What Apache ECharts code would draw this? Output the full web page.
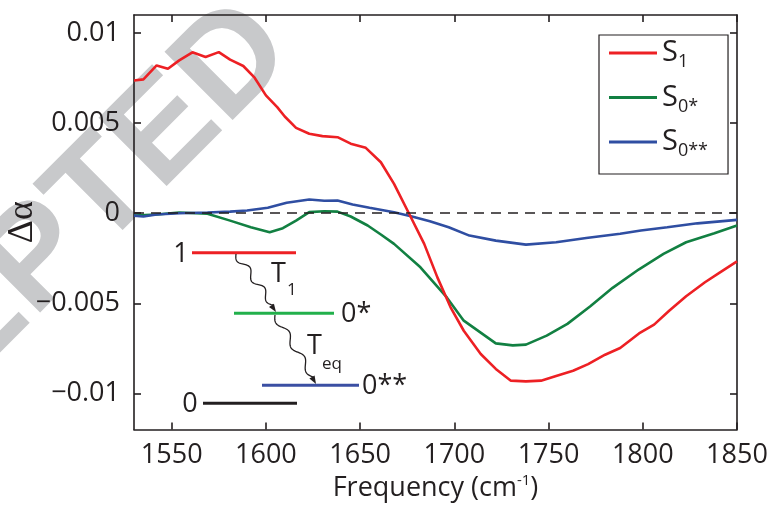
<!DOCTYPE html>
<html><head><meta charset="utf-8">
<script src="https://cdn.jsdelivr.net/npm/echarts@6/dist/echarts.min.js"></script>
<style>html,body{margin:0;padding:0;background:#fff}#c{width:773px;height:507px}</style>
</head><body><div id="c"></div>
<script>
// ---- data ----
const s1Freq = [1530,1535,1542,1548,1554,1561,1568,1575,1581,1588,1594,1600,1606,1610,1616,1623,1630,1638,1645,1653,1661,1668,1676,1684,1691,1698,1705,1714,1722,1730,1738,1746,1754,1763,1771,1780,1788,1798,1806,1814,1823,1833,1841,1850];
const s1Val  = [0.00737,0.00743,0.0082,0.00802,0.00848,0.00893,0.00867,0.00894,0.00852,0.00817,0.00752,0.00654,0.00589,0.00537,0.00474,0.00441,0.00428,0.00422,0.00386,0.00363,0.00283,0.00163,-0.00003,-0.0017,-0.00356,-0.00522,-0.00652,-0.00781,-0.00864,-0.00929,-0.00933,-0.00929,-0.00903,-0.00874,-0.00837,-0.00785,-0.00748,-0.00667,-0.00618,-0.00541,-0.00461,-0.00383,-0.00328,-0.00267];

const s0sFreq = [1530,1542,1554,1569,1581,1592,1602,1609,1616,1623,1631,1638,1645,1654,1661,1668,1682,1696,1705,1722,1731,1738,1749,1760,1772,1784,1798,1811,1823,1838,1850];
const s0sVal  = [-0.00013,-0.00007,0.00004,-0.00003,-0.00041,-0.00078,-0.00106,-0.00083,-0.00041,0.00006,0.00011,0.00009,-0.00018,-0.00068,-0.00118,-0.0017,-0.003,-0.00467,-0.00596,-0.00722,-0.00733,-0.00729,-0.00679,-0.00614,-0.00518,-0.00414,-0.00311,-0.00226,-0.00161,-0.00111,-0.00068];

const s0ssFreq = [1530,1535,1542,1554,1569,1581,1590,1601,1611,1623,1631,1638,1646,1655,1668,1677,1687,1697,1708,1722,1738,1754,1770,1788,1799,1813,1829,1850];
const s0ssVal  = [-0.00013,-0.00018,-0.00007,0,0.00004,0.00009,0.00015,0.0003,0.00058,0.00076,0.00069,0.00071,0.00048,0.0003,0.00006,-0.00017,-0.00044,-0.00078,-0.00124,-0.00152,-0.00174,-0.00161,-0.00137,-0.00114,-0.00096,-0.00078,-0.00056,-0.00037];

const seriesNames = ['S1','S0*','S0**'];
const legendSubs  = ['1','0*','0**'];
const xTicks = [1550,1600,1650,1700,1750,1800,1850];
const yTicks = [-0.01,-0.005,0,0.005,0.01];
const yTickLabels = ['\u22120.01','\u22120.005','0','0.005','0.01'];
const xTitle = 'Frequency (cm';
const yTitle = '\u0394\u03b1';

// ---- build ----
const zip = (a,b) => a.map((v,i)=>[v,b[i]]);
const FONT = '"Open Sans", "Noto Sans", sans-serif';
const INK = '#231f20';
const RED = '#ed2024', GREEN = '#128042', BLUE = '#2f4ea2';

const chart = echarts.init(document.getElementById('c'), null, {renderer:'canvas'});

function wavy(x1,y1,x2,y2,periods,amp){
  const pts=[]; const n=80;
  const dx=x2-x1, dy=y2-y1, L=Math.hypot(dx,dy);
  const nx=-dy/L, ny=dx/L;
  for(let i=0;i<=n;i++){
    const t=i/n; const o=amp*Math.sin(t*periods*2*Math.PI);
    pts.push([x1+dx*t+nx*o, y1+dy*t+ny*o]);
  }
  return pts;
}
function arrowHead(x,y,angle,len,w){
  const bx=x-Math.cos(angle)*len, by=y-Math.sin(angle)*len;
  const px=-Math.sin(angle)*w/2, py=Math.cos(angle)*w/2;
  return [[x,y],[bx+px,by+py],[bx-px,by-py]];
}

const axisCommon = {
  axisLine:{show:true,onZero:false,lineStyle:{color:INK,width:1.6}},
  splitLine:{show:false}
};

const option = {
  animation:false,
  backgroundColor:'#fff',
  grid:{left:134,right:36,top:15,bottom:77.5,containLabel:false,outerBoundsMode:'none'},
  xAxis:[{
    type:'value',min:1530,max:1850,position:'bottom',
    ...axisCommon,
    axisTick:{show:true,inside:true,length:7,lineStyle:{color:INK,width:1.6},customValues:xTicks},
    axisLabel:{show:true,customValues:xTicks,margin:12,color:INK,fontSize:27,fontFamily:FONT,
      formatter:v=>String(v)},
    name:xTitle+'{sup|-1}{n|)}',nameLocation:'middle',nameGap:44,
    nameTextStyle:{color:INK,fontSize:27,fontFamily:FONT,lineHeight:30,
      rich:{sup:{fontSize:15,fontFamily:FONT,color:INK,verticalAlign:'top',lineHeight:12},
            n:{fontSize:27,fontFamily:FONT,color:INK,lineHeight:30}}}
  },{
    type:'value',min:1530,max:1850,position:'top',
    ...axisCommon,
    axisTick:{show:true,inside:true,length:7,lineStyle:{color:INK,width:1.6},customValues:xTicks},
    axisLabel:{show:false}
  }],
  yAxis:[{
    type:'value',min:-0.012,max:0.011,position:'left',
    ...axisCommon,
    axisTick:{show:true,inside:true,length:7,lineStyle:{color:INK,width:1.6},customValues:yTicks},
    axisLabel:{show:true,customValues:yTicks,margin:14,color:INK,fontSize:27,fontFamily:FONT,
      formatter:v=>{const i=yTicks.findIndex(t=>Math.abs(t-v)<1e-9);return i>=0?yTickLabels[i]:'';}},
    name:yTitle,nameLocation:'middle',nameGap:93,nameRotate:90,nameMoveOverlap:false,
    nameTextStyle:{color:INK,fontSize:36,fontFamily:'"Liberation Serif", "DejaVu Serif", serif'}
  },{
    type:'value',min:-0.012,max:0.011,position:'right',
    ...axisCommon,
    axisTick:{show:true,inside:true,length:7,lineStyle:{color:INK,width:1.6},customValues:yTicks},
    axisLabel:{show:false}
  }],
  legend:{
    orient:'vertical',left:599,top:35,
    data:seriesNames,
    icon:'rect',itemWidth:48,itemHeight:3,itemGap:11.5,
    padding:[3,20,14,10],
    borderColor:INK,borderWidth:1.2,backgroundColor:'#fff',
    formatter:name=>'{s|S}{b|'+legendSubs[seriesNames.indexOf(name)]+'}',
    textStyle:{color:INK,fontFamily:FONT,
      rich:{s:{fontSize:29,fontFamily:FONT,color:INK,lineHeight:30},
            b:{fontSize:18,fontFamily:FONT,color:INK,lineHeight:30,verticalAlign:'top',padding:[15,0,0,0]}}}
  },
  series:[
    {name:seriesNames[0],type:'line',data:zip(s1Freq,s1Val),showSymbol:false,
     lineStyle:{color:RED,width:2.6},itemStyle:{color:RED},z:4,
     markLine:{silent:true,symbol:['none','none'],label:{show:false},
       lineStyle:{color:INK,type:[10,7],width:1.5},data:[{yAxis:0}],z:5}},
    {name:seriesNames[1],type:'line',data:zip(s0sFreq,s0sVal),showSymbol:false,
     lineStyle:{color:GREEN,width:2.6},itemStyle:{color:GREEN},z:3},
    {name:seriesNames[2],type:'line',data:zip(s0ssFreq,s0ssVal),showSymbol:false,
     lineStyle:{color:BLUE,width:2.6},itemStyle:{color:BLUE},z:3}
  ],
  graphic:[
    {type:'text',x:-2,y:300,rotation:Math.PI/4,z:-10,silent:true,
     style:{text:'ACCEPTED',font:'bold 140px "Liberation Sans", Arial, sans-serif',fill:'#c8c9cb',
            align:'center',verticalAlign:'middle',textAlign:'center',textVerticalAlign:'middle'}},
    // energy level scheme
    {type:'line',z:50,shape:{x1:192,y1:252.7,x2:296,y2:252.7},style:{stroke:RED,lineWidth:3}},
    {type:'line',z:50,shape:{x1:234,y1:313.3,x2:334,y2:313.3},style:{stroke:'#22b04b',lineWidth:3}},
    {type:'line',z:50,shape:{x1:262,y1:385.3,x2:359,y2:385.3},style:{stroke:'#3b4fa3',lineWidth:3}},
    {type:'line',z:50,shape:{x1:203,y1:403.3,x2:297,y2:403.3},style:{stroke:INK,lineWidth:3}},
    {type:'polyline',z:50,shape:{points:wavy(236,254,273,305,2.5,3.5)},style:{stroke:INK,lineWidth:1.3,fill:null}},
    {type:'polygon',z:50,shape:{points:arrowHead(276,312,Math.atan2(58,40),8,6)},style:{fill:INK}},
    {type:'polyline',z:50,shape:{points:wavy(275,315,313,377,2.5,3.5)},style:{stroke:INK,lineWidth:1.3,fill:null}},
    {type:'polygon',z:50,shape:{points:arrowHead(316,384,Math.atan2(69,40),8,6)},style:{fill:INK}},
    {type:'text',z:50,x:181,y:254,style:{text:'1',font:'27px '+FONT,fill:INK,align:'center',verticalAlign:'middle',textAlign:'center',textVerticalAlign:'middle'}},
    {type:'text',z:50,x:190,y:404,style:{text:'0',font:'27px '+FONT,fill:INK,align:'center',verticalAlign:'middle',textAlign:'center',textVerticalAlign:'middle'}},
    {type:'text',z:50,x:341,y:314,style:{text:'0*',font:'27px '+FONT,fill:INK,align:'left',verticalAlign:'middle',textAlign:'left',textVerticalAlign:'middle'}},
    {type:'text',z:50,x:362,y:386,style:{text:'0**',font:'27px '+FONT,fill:INK,align:'left',verticalAlign:'middle',textAlign:'left',textVerticalAlign:'middle'}},
    {type:'text',z:50,x:271,y:274,style:{text:'T',font:'27px '+FONT,fill:INK,align:'left',verticalAlign:'middle',textAlign:'left',textVerticalAlign:'middle'}},
    {type:'text',z:50,x:287,y:290,style:{text:'1',font:'17px '+FONT,fill:INK,align:'left',verticalAlign:'middle',textAlign:'left',textVerticalAlign:'middle'}},
    {type:'text',z:50,x:307,y:346,style:{text:'T',font:'27px '+FONT,fill:INK,align:'left',verticalAlign:'middle',textAlign:'left',textVerticalAlign:'middle'}},
    {type:'text',z:50,x:322,y:364,style:{text:'eq',font:'17px '+FONT,fill:INK,align:'left',verticalAlign:'middle',textAlign:'left',textVerticalAlign:'middle'}}
  ]
};
chart.setOption(option);
</script>
</body></html>
